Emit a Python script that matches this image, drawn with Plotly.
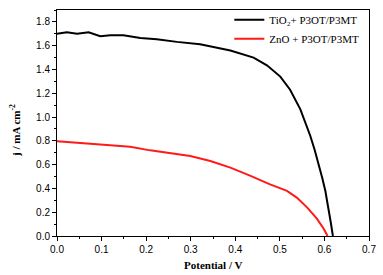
import plotly.graph_objects as go

tio2_x = [0, 0.022, 0.045, 0.071, 0.097, 0.12, 0.149, 0.187, 0.224, 0.269, 0.321, 0.389,
          0.441, 0.471, 0.501, 0.523, 0.546, 0.557, 0.568, 0.578, 0.587, 0.595, 0.602,
          0.609, 0.614, 0.619]
tio2_y = [1.70, 1.712, 1.70, 1.712, 1.68, 1.688, 1.688, 1.665, 1.655, 1.632, 1.612, 1.56,
          1.50, 1.435, 1.34, 1.23, 1.065, 0.96, 0.845, 0.725, 0.61, 0.49, 0.38,
          0.24, 0.12, 0.0]

zno_x = [0, 0.097, 0.164, 0.209, 0.254, 0.299, 0.344, 0.389, 0.433, 0.478, 0.516, 0.538,
         0.561, 0.583, 0.598, 0.607]
zno_y = [0.796, 0.768, 0.75, 0.72, 0.695, 0.672, 0.631, 0.575, 0.508, 0.434, 0.379, 0.323,
         0.241, 0.146, 0.063, 0.0]

fig = go.Figure()
fig.add_trace(go.Scatter(x=tio2_x, y=tio2_y, mode="lines", name="TiO₂+ P3OT/P3MT",
                         line=dict(color="black", width=2)))
fig.add_trace(go.Scatter(x=zno_x, y=zno_y, mode="lines", name="ZnO + P3OT/P3MT",
                         line=dict(color="#ff1a1a", width=2)))

axis_common = dict(showline=True, linecolor="black", linewidth=1, mirror=True, automargin=False,
                   ticks="outside", ticklen=4, tickcolor="black", showgrid=False, zeroline=False,
                   tickfont=dict(family="Liberation Sans", size=10, color="black"))

fig.update_xaxes(range=[0, 0.7], dtick=0.1, tickformat=".1f",
                 minor=dict(ticks="outside", ticklen=2, dtick=0.05, tickcolor="black"),
                 **axis_common)
fig.update_yaxes(range=[0, 1.9], dtick=0.2, tickformat=".1f",
                 minor=dict(ticks="outside", ticklen=2, dtick=0.1, tickcolor="black"),
                 **axis_common)

fig.add_annotation(text="<b>Potential / V</b>", xref="paper", yref="paper", x=0.5, y=0,
                   yshift=-29, yanchor="middle", showarrow=False,
                   font=dict(family="Liberation Serif", size=11, color="black"))
fig.add_annotation(text="<b>j / mA cm<sup>-2</sup></b>", xref="paper", yref="paper", x=0, y=0.5,
                   xshift=-42, yshift=-8, textangle=-90, xanchor="center", yanchor="middle",
                   showarrow=False, font=dict(family="Liberation Serif", size=11, color="black"))

fig.update_layout(width=383, height=275, margin=dict(l=57, r=14, t=5, b=39),
                  plot_bgcolor="white", paper_bgcolor="white",
                  legend=dict(x=0.985, y=1.021, xanchor="right", yanchor="top",
                              bgcolor="rgba(0,0,0,0)",
                              font=dict(family="Liberation Serif", size=11, color="black"),
                              tracegroupgap=0))
fig.write_html("out.html", config={"displayModeBar": False},
               post_script="document.body.style.margin='0';")
